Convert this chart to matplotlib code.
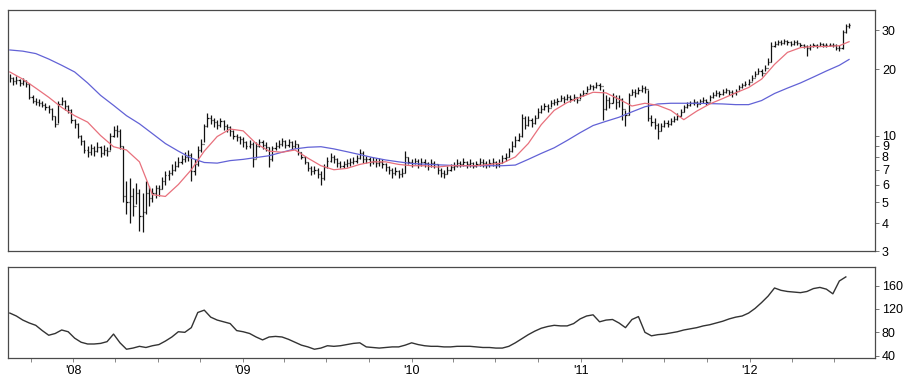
import matplotlib
matplotlib.use("Agg")
import matplotlib.pyplot as plt
import matplotlib.dates as mdates
import numpy as np
import pandas as pd
from matplotlib.collections import LineCollection
from matplotlib.ticker import FixedLocator, NullLocator

plt.rcParams["font.family"] = ["Liberation Sans", "DejaVu Sans"]

# Weekly bars, Friday closes
weeks = pd.date_range("2007-08-17", periods=260, freq="W-FRI")

close = [
    18.2, 17.6, 17.9, 17.3, 17.7, 17.1, 15.0, 14.4, 14.2, 14.0,
    13.8, 13.5, 13.2, 12.2, 11.3, 13.9, 14.4, 13.6, 13.1, 11.8,
    11.3, 10.0, 9.4, 8.6, 8.4, 8.8, 8.5, 8.9, 8.3, 8.6,
    8.5, 10.0, 10.6, 10.5, 9.0, 5.3, 5.0, 5.3, 4.8, 5.5,
    4.3, 4.5, 5.5, 5.2, 5.5, 5.8, 5.7, 6.2, 6.6, 6.8,
    7.0, 7.3, 7.6, 7.8, 8.0, 8.2, 6.9, 7.4, 8.6, 9.2,
    11.0, 12.0, 11.8, 11.5, 11.2, 11.6, 11.0, 10.9, 10.5, 10.0,
    9.8, 9.6, 9.3, 9.0, 9.2, 7.8, 9.0, 9.3, 9.1, 8.9,
    7.8, 8.8, 9.0, 9.2, 9.4, 9.1, 9.3, 9.0, 9.2, 8.4,
    8.0, 7.6, 7.1, 6.9, 7.0, 6.7, 6.4, 7.2, 7.7, 8.0,
    7.8, 7.5, 7.3, 7.4, 7.5, 7.6, 7.7, 7.9, 8.3, 7.8,
    7.8, 7.6, 7.7, 7.5, 7.6, 7.4, 7.2, 7.0, 6.8, 6.9,
    6.7, 6.8, 8.0, 7.6, 7.5, 7.7, 7.4, 7.6, 7.5, 7.3,
    7.5, 7.4, 7.0, 6.8, 6.7, 7.0, 7.2, 7.3, 7.5, 7.4,
    7.6, 7.4, 7.5, 7.3, 7.4, 7.6, 7.5, 7.4, 7.5, 7.6,
    7.4, 7.5, 7.9, 8.0, 8.5, 9.0, 9.5, 10.0, 12.0, 11.2,
    11.8, 11.4, 12.0, 12.8, 13.2, 13.6, 13.3, 14.0, 14.2, 14.3,
    14.8, 14.6, 15.0, 14.7, 14.9, 14.5, 15.2, 15.6, 16.2, 16.8,
    16.5, 17.0, 16.7, 13.2, 14.5, 14.0, 15.0, 14.2, 14.6, 13.2,
    12.4, 15.2, 15.8, 15.6, 16.0, 16.4, 16.2, 12.0, 11.5, 11.2,
    10.5, 11.0, 11.4, 11.3, 11.6, 11.9, 12.2, 12.8, 13.4, 13.8,
    14.0, 14.2, 13.9, 14.3, 14.5, 14.2, 14.9, 15.2, 15.6, 15.4,
    15.8, 16.0, 15.7, 15.5, 15.9, 16.6, 16.9, 17.2, 17.5, 18.2,
    19.0, 19.6, 19.2, 20.2, 21.5, 25.5, 26.0, 26.5, 26.2, 26.8,
    26.4, 26.0, 26.5, 26.2, 25.6, 25.4, 24.8, 25.4, 25.8, 25.5,
    25.9, 25.6, 25.7, 25.8, 25.6, 25.0, 24.8, 29.5, 31.2, 31.6,
]

high = [
    18.9, 18.5, 18.6, 18.1, 18.3, 17.9, 17.3, 15.2, 14.8, 14.6,
    14.3, 14.0, 13.7, 13.3, 12.2, 14.3, 15.0, 14.5, 13.7, 13.2,
    11.9, 11.4, 10.1, 9.5, 9.0, 9.2, 9.0, 9.3, 9.0, 9.1,
    8.9, 10.3, 11.0, 11.2, 10.7, 9.0, 6.2, 6.4, 5.8, 6.1,
    5.7, 5.5, 6.2, 5.9, 5.8, 6.0, 6.0, 6.5, 6.9, 7.0,
    7.4, 7.7, 8.0, 8.2, 8.4, 8.6, 8.3, 7.8, 9.0, 9.6,
    11.3, 12.6, 12.4, 12.0, 11.8, 12.0, 11.7, 11.3, 11.0, 10.6,
    10.2, 10.0, 9.8, 9.4, 9.5, 9.3, 9.3, 9.6, 9.5, 9.3,
    8.9, 9.0, 9.3, 9.5, 9.7, 9.5, 9.6, 9.4, 9.5, 9.2,
    8.4, 8.1, 7.6, 7.3, 7.3, 7.1, 6.9, 7.4, 8.0, 8.3,
    8.2, 7.9, 7.7, 7.7, 7.8, 7.9, 8.0, 8.2, 8.7, 8.5,
    8.1, 8.0, 8.0, 7.9, 7.9, 7.8, 7.5, 7.3, 7.1, 7.2,
    7.0, 7.1, 8.5, 8.0, 7.8, 7.9, 7.8, 7.9, 7.8, 7.6,
    7.8, 7.7, 7.4, 7.1, 7.0, 7.3, 7.4, 7.6, 7.8, 7.7,
    7.9, 7.7, 7.8, 7.6, 7.7, 7.9, 7.8, 7.7, 7.8, 7.9,
    7.7, 7.8, 8.2, 8.3, 8.8, 9.4, 9.9, 10.3, 12.5, 12.2,
    12.3, 12.0, 12.4, 13.3, 13.7, 14.1, 13.9, 14.5, 14.7, 14.8,
    15.2, 15.1, 15.4, 15.2, 15.4, 15.0, 15.6, 16.1, 16.7, 17.2,
    17.0, 17.5, 17.3, 16.3, 15.2, 15.0, 15.5, 15.3, 15.2, 14.8,
    13.0, 15.6, 16.3, 16.2, 16.5, 17.0, 16.8, 16.0, 12.4, 12.0,
    11.4, 11.4, 11.8, 11.8, 12.0, 12.3, 12.6, 13.2, 13.8, 14.2,
    14.4, 14.6, 14.4, 14.7, 14.9, 14.7, 15.3, 15.7, 16.0, 15.9,
    16.2, 16.4, 16.1, 16.0, 16.3, 17.0, 17.3, 17.6, 18.0, 18.8,
    19.6, 20.3, 20.0, 20.8, 22.4, 26.5, 26.9, 27.2, 27.0, 27.3,
    27.1, 26.8, 27.2, 27.0, 26.3, 26.1, 25.6, 26.0, 26.3, 26.1,
    26.4, 26.2, 26.2, 26.3, 26.2, 25.9, 25.6, 30.2, 32.0, 32.4,
]

low = [
    17.4, 17.0, 17.2, 16.8, 16.9, 16.5, 14.7, 14.0, 13.8, 13.6,
    13.4, 13.0, 12.7, 11.8, 10.9, 11.4, 13.7, 13.1, 12.6, 11.4,
    10.8, 9.7, 9.1, 8.3, 8.0, 8.2, 8.1, 8.4, 8.0, 8.2,
    8.1, 8.6, 9.8, 9.8, 8.7, 5.0, 4.4, 4.0, 4.3, 4.9,
    3.7, 3.65, 4.4, 4.8, 5.0, 5.2, 5.3, 5.7, 6.0, 6.3,
    6.6, 6.9, 7.2, 7.4, 7.6, 7.7, 6.2, 6.6, 7.3, 8.4,
    9.3, 10.9, 11.3, 10.9, 10.7, 10.9, 10.6, 10.4, 9.9, 9.6,
    9.4, 9.2, 8.9, 8.7, 8.8, 7.2, 7.9, 8.9, 8.7, 8.5,
    7.2, 7.7, 8.6, 8.8, 9.0, 8.8, 8.9, 8.7, 8.8, 8.2,
    7.8, 7.4, 6.9, 6.6, 6.7, 6.4, 6.0, 6.3, 7.1, 7.6,
    7.5, 7.2, 7.1, 7.1, 7.2, 7.3, 7.4, 7.5, 7.8, 7.5,
    7.5, 7.3, 7.4, 7.2, 7.3, 7.1, 6.9, 6.7, 6.4, 6.6,
    6.4, 6.5, 6.8, 7.4, 7.2, 7.4, 7.1, 7.3, 7.2, 7.0,
    7.2, 7.1, 6.7, 6.5, 6.4, 6.7, 6.9, 7.0, 7.2, 7.2,
    7.3, 7.1, 7.2, 7.1, 7.2, 7.3, 7.2, 7.1, 7.2, 7.3,
    7.1, 7.2, 7.5, 7.7, 8.0, 8.4, 8.9, 9.4, 9.8, 10.7,
    11.0, 10.9, 11.3, 12.0, 12.6, 13.0, 12.8, 13.4, 13.7, 13.8,
    14.3, 14.1, 14.5, 14.2, 14.4, 14.0, 14.6, 15.1, 15.7, 16.2,
    16.0, 16.4, 16.1, 11.8, 13.0, 13.3, 14.0, 13.2, 13.5, 11.8,
    11.0, 12.4, 15.2, 15.0, 15.4, 15.8, 15.6, 11.6, 11.0, 10.7,
    9.6, 10.5, 10.9, 10.9, 11.2, 11.5, 11.8, 12.3, 12.8, 13.3,
    13.6, 13.8, 13.5, 13.9, 14.1, 13.8, 14.4, 14.8, 15.1, 15.0,
    15.3, 15.6, 15.3, 15.0, 15.3, 16.1, 16.4, 16.8, 17.0, 17.6,
    18.4, 19.0, 18.6, 19.5, 20.8, 21.5, 25.2, 25.7, 25.6, 26.0,
    25.8, 25.4, 25.8, 25.6, 25.1, 24.9, 22.9, 24.5, 25.2, 25.0,
    25.4, 25.1, 25.2, 25.3, 25.1, 24.3, 24.2, 24.6, 29.0, 30.8,
]

# Moving averages, read every fourth week plus the final week
ma_dates = weeks[::4].append(weeks[-1:])
ma_short = [
    19.4, 18.0, 16.4, 14.9, 13.4, 12.3, 11.5, 10.0, 8.9, 8.6,
    7.6, 5.4, 5.3, 6.0, 7.0, 8.5, 9.9, 10.7, 10.5, 9.2,
    8.5, 8.4, 8.6, 7.9, 7.3, 7.0, 7.1, 7.4, 7.6, 7.6,
    7.4, 7.3, 7.3, 7.2, 7.3, 7.3, 7.3, 7.4, 7.5, 8.0,
    9.2, 11.2, 13.0, 14.1, 14.9, 15.7, 15.6, 14.6, 13.6, 14.0,
    13.7, 13.0, 11.8, 12.9, 13.9, 14.7, 15.6, 16.5, 18.0, 21.0,
    23.8, 25.0, 25.3, 25.3, 25.5, 26.6,
]
ma_long = [
    24.4, 24.1, 23.5, 22.2, 20.8, 19.4, 17.3, 15.2, 13.7, 12.3,
    11.3, 10.2, 9.2, 8.5, 7.9, 7.55, 7.5, 7.7, 7.8, 7.95,
    8.1, 8.4, 8.7, 8.85, 8.9, 8.7, 8.45, 8.2, 7.95, 7.75,
    7.6, 7.47, 7.42, 7.37, 7.33, 7.3, 7.3, 7.3, 7.3, 7.35,
    7.8, 8.3, 8.8, 9.5, 10.3, 11.1, 11.6, 12.1, 12.8, 13.5,
    13.9, 14.0, 14.0, 14.0, 13.95, 13.9, 13.8, 13.8, 14.4, 15.5,
    16.4, 17.3, 18.4, 19.6, 20.8, 22.1,
]

# Lower panel: relative strength, every second week
rs_dates = weeks[::2]
rel_strength = [
    113, 108, 101, 96, 92, 83, 75, 78, 84, 81,
    70, 63, 60, 60, 61, 64, 77, 62, 51, 53,
    56, 54, 57, 59, 65, 72, 81, 80, 88, 114,
    118, 106, 101, 98, 95, 83, 81, 78, 72, 67,
    72, 73, 72, 68, 63, 58, 55, 51, 53, 57,
    56, 57, 59, 61, 62, 55, 54, 53, 54, 55,
    55, 58, 62, 59, 57, 56, 56, 55, 55, 56,
    56, 56, 55, 54, 54, 53, 53, 56, 62, 69,
    76, 82, 87, 90, 92, 91, 91, 95, 103, 108,
    110, 98, 101, 102, 96, 88, 102, 107, 80, 74,
    76, 77, 79, 81, 84, 86, 88, 91, 93, 96,
    99, 103, 106, 108, 113, 121, 131, 142, 156, 152,
    150, 149, 148, 150, 155, 157, 154, 146, 168, 175,
]

price_ticks = [3, 4, 5, 6, 7, 8, 9, 10, 20, 30]
rs_ticks = [40, 80, 120, 160]
year_starts = pd.to_datetime(["2008-01-01", "2009-01-01", "2010-01-01",
                              "2011-01-01", "2012-01-01"])
year_labels = ["'08", "'09", "'10", "'11", "'12"]

x = mdates.date2num(weeks.to_pydatetime())
x_open = np.r_[np.nan, np.array(close[:-1])]
half = 2.4  # tick length in days

fig = plt.figure(figsize=(9.19, 3.83), dpi=100)
ax1 = fig.add_axes([0.0087, 0.3446, 0.9434, 0.6292])
ax2 = fig.add_axes([0.0087, 0.0653, 0.9434, 0.2376], sharex=ax1)

frame = "#4a4a4a"
for ax in (ax1, ax2):
    for s in ax.spines.values():
        s.set_color(frame)
        s.set_linewidth(0.9)

# Price bars
segs = []
for xi, o, h, l, c in zip(x, x_open, high, low, close):
    segs.append([(xi, l), (xi, h)])
    if not np.isnan(o):
        segs.append([(xi - half, o), (xi, o)])
    segs.append([(xi, c), (xi + half, c)])
ax1.add_collection(LineCollection(segs, colors="#111111", linewidths=0.9))

ax1.plot(mdates.date2num(ma_dates.to_pydatetime()), ma_long,
         color="#6262d6", lw=0.9)
ax1.plot(mdates.date2num(ma_dates.to_pydatetime()), ma_short,
         color="#e8707c", lw=0.9)

ax1.set_yscale("log")
ax1.set_ylim(3, 37)
ax1.yaxis.set_major_locator(FixedLocator(price_ticks))
ax1.yaxis.set_minor_locator(NullLocator())
ax1.set_yticklabels([str(v) for v in price_ticks])
ax1.yaxis.tick_right()
ax1.tick_params(axis="y", which="major", length=3, width=0.7, color="#777777",
                labelsize=9, pad=2)
ax1.tick_params(axis="x", which="both", bottom=False, labelbottom=False)

# Relative strength
ax2.plot(mdates.date2num(rs_dates.to_pydatetime()), rel_strength,
         color="#333333", lw=1.0)
ax2.set_ylim(36, 192)
ax2.yaxis.set_major_locator(FixedLocator(rs_ticks))
ax2.yaxis.tick_right()
ax2.tick_params(axis="y", length=3, width=0.7, color="#777777",
                labelsize=9, pad=2)

ax2.set_xlim(mdates.date2num(pd.Timestamp("2007-08-13")),
             mdates.date2num(pd.Timestamp("2012-09-28")))
ax2.xaxis.set_major_locator(FixedLocator(mdates.date2num(year_starts.to_pydatetime())))
ax2.xaxis.set_minor_locator(mdates.MonthLocator(bymonth=[4, 7, 10]))
ax2.set_xticklabels(year_labels)
ax2.tick_params(axis="x", which="both", length=3, width=0.7, color="#888888",
                labelsize=9, pad=2)

fig.savefig("out.png", dpi=100, facecolor="white")
